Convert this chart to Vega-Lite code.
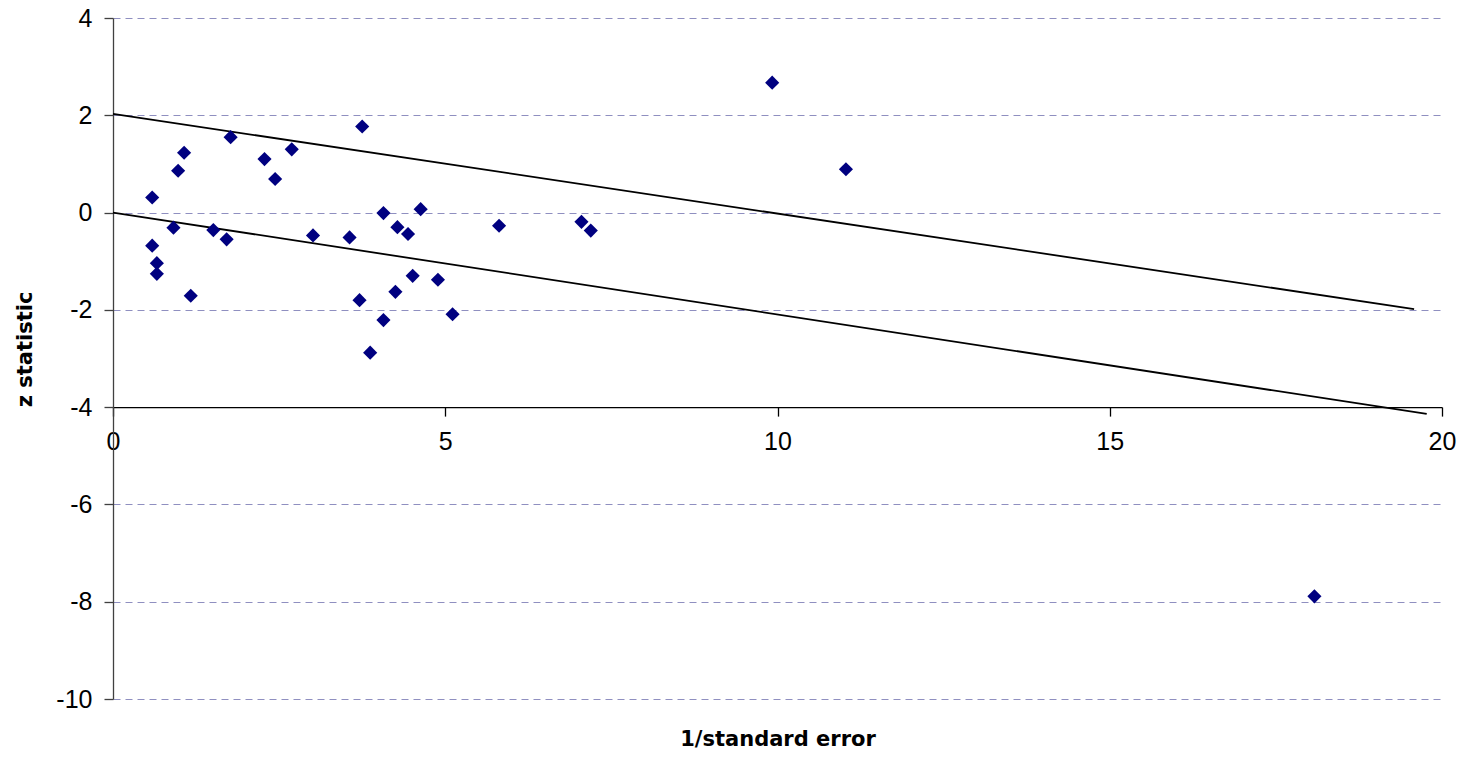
{
  "$schema": "https://vega.github.io/schema/vega-lite/v6.json",
  "width": 1329,
  "height": 681,
  "autosize": "none",
  "padding": {"left": 113, "top": 18, "right": 24, "bottom": 59},
  "background": "white",
  "config": {"view": {"stroke": null}, "font": "Liberation Sans"},
  "datasets": {
    "lines": [
      {"line": "upper", "x": 0, "y": 2.03},
      {"line": "upper", "x": 19.58, "y": -1.985},
      {"line": "lower", "x": 0, "y": 0},
      {"line": "lower", "x": 19.77, "y": -4.14}
    ],
    "points": [
      {"x": 1.77, "y": 1.55},
      {"x": 1.07, "y": 1.23},
      {"x": 2.69, "y": 1.3},
      {"x": 2.28, "y": 1.1},
      {"x": 0.98, "y": 0.86},
      {"x": 2.44, "y": 0.69},
      {"x": 0.59, "y": 0.31},
      {"x": 0.91, "y": -0.31},
      {"x": 1.51, "y": -0.36},
      {"x": 1.71, "y": -0.55},
      {"x": 0.59, "y": -0.68},
      {"x": 0.66, "y": -1.04},
      {"x": 0.66, "y": -1.26},
      {"x": 1.17, "y": -1.71},
      {"x": 3.75, "y": 1.77},
      {"x": 4.07, "y": -0.01},
      {"x": 4.63, "y": 0.07},
      {"x": 4.28, "y": -0.3},
      {"x": 4.44, "y": -0.44},
      {"x": 3.01, "y": -0.47},
      {"x": 3.56, "y": -0.51},
      {"x": 4.51, "y": -1.3},
      {"x": 4.89, "y": -1.38},
      {"x": 4.25, "y": -1.63},
      {"x": 3.71, "y": -1.8},
      {"x": 5.11, "y": -2.09},
      {"x": 4.07, "y": -2.21},
      {"x": 3.87, "y": -2.88},
      {"x": 5.81, "y": -0.27},
      {"x": 7.05, "y": -0.19},
      {"x": 7.19, "y": -0.37},
      {"x": 9.92, "y": 2.67},
      {"x": 11.03, "y": 0.89},
      {"x": 18.08, "y": -7.89}
    ]
  },
  "encoding": {
    "x": {
      "field": "x",
      "type": "quantitative",
      "title": "1/standard error",
      "scale": {"domain": [0, 20], "nice": false, "zero": false},
      "axis": {
        "values": [0, 5, 10, 15, 20],
        "labelExpr": "'' + datum.value",
        "grid": false,
        "offset": -291.9,
        "domainColor": "#000000",
        "domainWidth": 1.3,
        "tickColor": "#000000",
        "tickWidth": 1.3,
        "tickSize": 9,
        "labelFont": "Liberation Sans",
        "labelFontSize": 25,
        "labelColor": "#000000",
        "labelPadding": 13,
        "labelFlush": false,
        "labelOverlap": false,
        "labelBound": false,
        "titleFont": "DejaVu Sans",
        "titleFontWeight": "bold",
        "titleFontSize": 21,
        "titleColor": "#000000",
        "titleY": 338,
        "titleBaseline": "alphabetic",
        "titleAlign": "center"
      }
    },
    "y": {
      "field": "y",
      "type": "quantitative",
      "title": "z statistic",
      "scale": {"domain": [-10, 4], "nice": false, "zero": false},
      "axis": {
        "values": [-10, -8, -6, -4, -2, 0, 2, 4],
        "labelExpr": "'' + datum.value",
        "grid": true,
        "gridDash": [7, 5],
        "gridColor": "#8f8fc0",
        "gridWidth": 1,
        "domainColor": "#404040",
        "domainWidth": 1.3,
        "tickColor": "#404040",
        "tickWidth": 1.3,
        "tickSize": 9,
        "labelFont": "Liberation Sans",
        "labelFontSize": 25,
        "labelColor": "#000000",
        "labelPadding": 12,
        "labelFlush": false,
        "labelOverlap": false,
        "labelBound": false,
        "titleFont": "DejaVu Sans",
        "titleFontWeight": "bold",
        "titleFontSize": 21,
        "titleColor": "#000000",
        "titleAngle": 270,
        "titleX": -88,
        "titleY": 331,
        "titleBaseline": "middle",
        "titleAlign": "center"
      }
    }
  },
  "layer": [
    {
      "data": {"name": "lines"},
      "mark": {"type": "line", "color": "#000000", "strokeWidth": 1.8},
      "encoding": {"detail": {"field": "line", "type": "nominal"}}
    },
    {
      "data": {"name": "points"},
      "mark": {"type": "point", "shape": "diamond", "filled": true, "color": "#000080", "size": 200, "opacity": 1, "strokeWidth": 0}
    }
  ]
}
